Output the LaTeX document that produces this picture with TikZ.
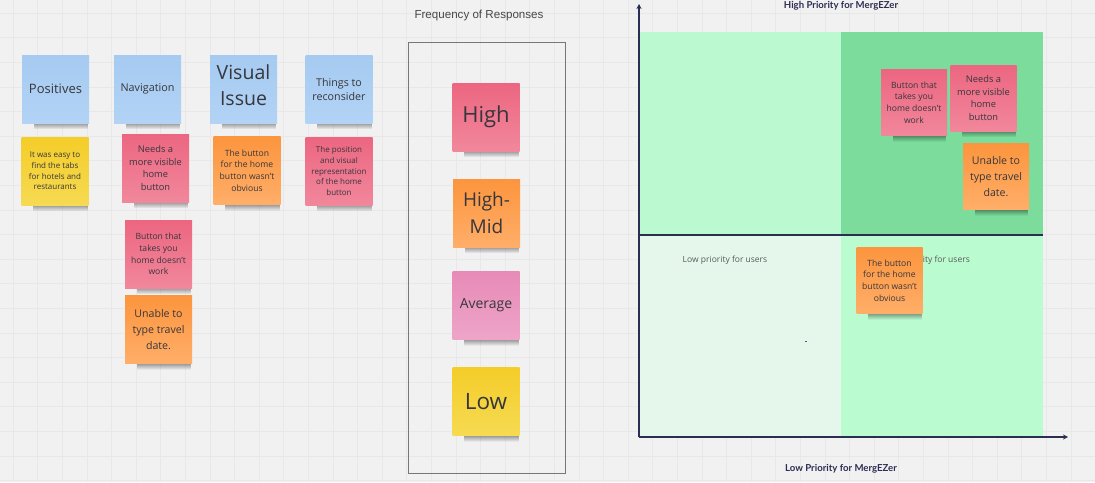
\documentclass[tikz,border=0pt]{standalone}
\usepackage{fontspec}
\setmainfont{Open Sans}
\newfontfamily\arialfont{Liberation Sans}
\newfontfamily\axisfont{Lato}
\usetikzlibrary{arrows.meta,fadings,calc}

\definecolor{canvas}{HTML}{F1F1F1}
\definecolor{gridline}{HTML}{E8E8E8}
\definecolor{notetext}{HTML}{36363C}
\definecolor{blueA}{HTML}{A6CAF1}
\definecolor{blueB}{HTML}{B2D3F5}
\definecolor{pinkA}{HTML}{EC6681}
\definecolor{pinkB}{HTML}{F1879B}
\definecolor{yellowA}{HTML}{F4CD29}
\definecolor{yellowB}{HTML}{F6DA52}
\definecolor{orangeA}{HTML}{FC953E}
\definecolor{orangeB}{HTML}{FFAE69}
\definecolor{roseA}{HTML}{E78AB7}
\definecolor{roseB}{HTML}{EEA5C8}
\definecolor{axisnavy}{HTML}{2C2D52}
\definecolor{quadTL}{HTML}{BBF9D0}
\definecolor{quadTR}{HTML}{7BDC9C}
\definecolor{quadBL}{HTML}{E5F7EB}
\definecolor{quadBR}{HTML}{BBFBD0}
\definecolor{boxline}{HTML}{777777}

\pgfdeclarelayer{canvaslayer}
\pgfdeclarelayer{shadowlayer}
\pgfsetlayers{canvaslayer,shadowlayer,main}

\tikzfading[name=notefade, top color=transparent!20, bottom color=transparent!100]

\tikzset{
  note/.style={minimum width=67pt, minimum height=68pt, inner sep=1pt,
    align=center, text=notetext},
  smallnote/.style={note, minimum width=66pt, minimum height=66pt},
  bluenote/.style={top color=blueA, bottom color=blueB},
  pinknote/.style={top color=pinkA, bottom color=pinkB},
  yellownote/.style={top color=yellowA, bottom color=yellowB},
  orangenote/.style={top color=orangeA, bottom color=orangeB},
  rosenote/.style={top color=roseA, bottom color=roseB},
  tinytext/.style={font=\fontsize{8}{10.7}\selectfont},
  smalltext/.style={font=\fontsize{8.6}{11.8}\selectfont},
  midtext/.style={font=\fontsize{9.3}{12.7}\selectfont},
  datetext/.style={font=\fontsize{10.6}{16}\selectfont},
  axisline/.style={draw=axisnavy, line width=1.7pt},
  axislabel/.style={font=\axisfont\bfseries\fontsize{9.6}{11}\selectfont, text=axisnavy},
  quadlabel/.style={font=\fontsize{8.5}{10}\selectfont, text=black!65},
  noteshadow/.style={fill=black, opacity=.6, path fading=notefade},
}

\begin{document}
\begin{tikzpicture}[x=1pt, y=-1pt]
  \useasboundingbox (0,0) rectangle (1095,482);

  % ---------- category headers ----------
  \node[note, bluenote, font=\fontsize{13}{17}\selectfont] (positives) at (55.5,89) {Positives};
  \node[note, bluenote, font=\fontsize{10.8}{14}\selectfont] (navigation) at (147.5,89) {Navigation};
  \node[note, bluenote] (visual) at (243.5,89) {};
  \node[align=center, text=notetext, font=\fontsize{19.5}{26.5}\selectfont] (visualtext) at (243.5,85) {Visual\\Issue};
  \node[note, bluenote, font=\fontsize{10.7}{14}\selectfont] (reconsider) at (339,89) {Things to\\reconsider};

  % ---------- responses ----------
  \node[note, yellownote, tinytext] (easy) at (55,171)
    {It was easy to\\find the tabs\\for hotels and\\restaurants};
  \node[note, pinknote, midtext] (visiblehome) at (155.5,168)
    {Needs a\\more visible\\home\\button};
  \node[note, orangenote, smalltext] (notobvious) at (247,170.5)
    {The button\\for the home\\button wasn't\\obvious};
  \node[note, pinknote, tinytext] (position) at (339,171)
    {The position\\and visual\\representation\\of the home\\button};
  \node[note, pinknote, smalltext] (takeshome) at (158.5,254)
    {Button that\\takes you\\home doesn't\\work};
  \node[note, orangenote, datetext] (traveldate) at (158.5,329.5)
    {Unable to\\type travel\\date.};

  % ---------- frequency legend ----------
  \node[font=\arialfont\fontsize{11.6}{14}\selectfont, text=black!72] (freqtitle) at (479,16) {Frequency of Responses};
  \node[draw=boxline, line width=0.8pt, minimum width=157pt, minimum height=431pt] (freqbox) at (486.5,257.5) {};
  \node[note, pinknote, font=\fontsize{22}{28}\selectfont] (high) at (486,117) {High};
  \node[note, orangenote, font=\fontsize{19}{27.5}\selectfont] (highmid) at (486.5,213) {High-\\Mid};
  \node[note, rosenote, font=\fontsize{14}{18}\selectfont] (average) at (486,305.5) {Average};
  \node[note, yellownote, font=\fontsize{22.5}{28}\selectfont] (low) at (486,401.5) {Low};

  % ---------- priority matrix ----------
  \coordinate (origin) at (639,437);
  \coordinate (ytip) at (639,4);
  \coordinate (xtip) at (1068,437);
  \coordinate (midleft) at (639,235);
  \coordinate (midright) at (1043,235);

  \node[axislabel] (hiMerg) at (841,6) {High Priority for MergEZer};
  \node[axislabel] (loMerg) at (841,469) {Low Priority for MergEZer};

  \node[quadlabel] (lowusers) at (725,260) {Low priority for users};
  \node[quadlabel, anchor=east, inner sep=0pt] (highusers) at (970,260) {High priority for users};
  \fill[blue!60!black!70!white] (805,340.5) rectangle (807,341.7);

  % responses placed in the matrix
  \node[smallnote, pinknote, smalltext] (mtakeshome) at (914,102.5)
    {Button that\\takes you\\home doesn't\\work};
  \node[smallnote, pinknote, midtext] (mvisiblehome) at (983.5,98)
    {Needs a\\more visible\\home\\button};
  \node[smallnote, orangenote, datetext] (mtraveldate) at (996,176.5)
    {Unable to\\type travel\\date.};
  \node[smallnote, orangenote, smalltext] (mnotobvious) at (889.5,280.5)
    {The button\\for the home\\button wasn't\\obvious};

  % soft shadows under every sticky note
  \begin{pgfonlayer}{shadowlayer}
    \foreach \n in {positives,navigation,visual,reconsider,easy,visiblehome,
        notobvious,position,takeshome,traveldate,high,highmid,average,low,
        mtakeshome,mvisiblehome,mtraveldate,mnotobvious}
      \fill[noteshadow] ($(\n.south west)+(12,-2)$) rectangle ($(\n.south east)+(-1,6)$);
  \end{pgfonlayer}

  % canvas, grid and quadrant fields underneath everything
  \begin{pgfonlayer}{canvaslayer}
    \fill[canvas] (0,0) rectangle (1095,482);
    \foreach \i in {0,...,44}
      \draw[gridline, line width=0.5pt] ({13+24.6*\i},0) -- ({13+24.6*\i},482);
    \foreach \j in {0,...,19}
      \draw[gridline, line width=0.5pt] (0,{13+24.6*\j}) -- (1095,{13+24.6*\j});
    \fill[quadTL] (639,32) rectangle (841,235);
    \fill[quadTR] (841,32) rectangle (1043,235);
    \fill[quadBL] (639,235) rectangle (841,437);
    \fill[quadBR] (841,235) rectangle (1043,437);
    \draw[axisline] (midleft) -- (midright);
    \draw[axisline, -{Stealth[length=5pt, width=5pt]}] (origin) -- (ytip);
    \draw[axisline, -{Stealth[length=5pt, width=5pt]}] (origin) -- (xtip);
  \end{pgfonlayer}
\end{tikzpicture}
\end{document}
